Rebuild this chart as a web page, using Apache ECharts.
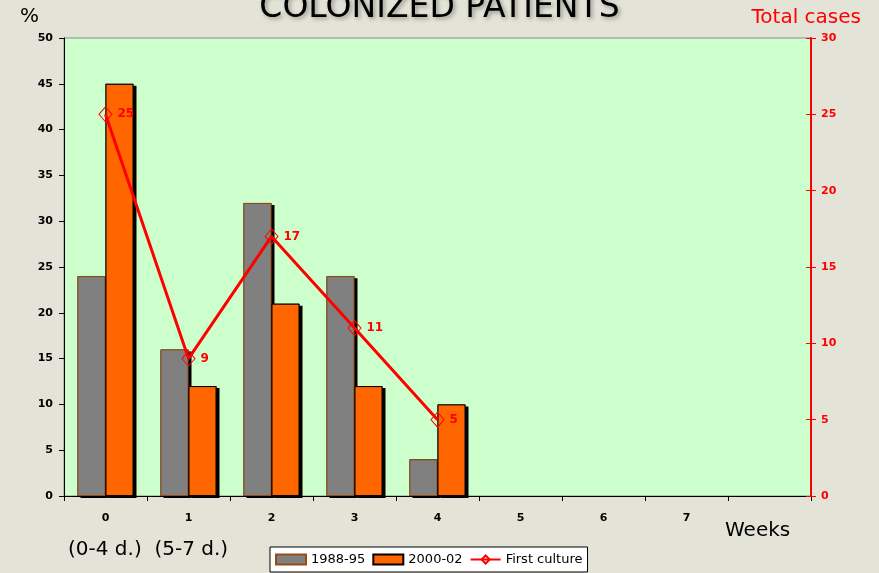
<!DOCTYPE html>
<html>
<head>
<meta charset="utf-8">
<script src="https://cdn.jsdelivr.net/npm/echarts@6/dist/echarts.min.js"></script>
<style>
  html, body { margin: 0; padding: 0; background: #e3e3d8; }
  #chart { width: 879px; height: 573px; }
</style>
</head>
<body>
<div id="chart"></div>
<script>
// Week categories (last slot left blank for the "Weeks" caption)
const weeks = ['0', '1', '2', '3', '4', '5', '6', '7', ''];
// Percentage of colonized patients per period
const period1988 = [24, 16, 32, 24, 4, null, null, null, null];
const period2000 = [45, 12, 21, 12, 10, null, null, null, null];
// Total cases at first culture
const firstCulture = [25, 9, 17, 11, 5, null, null, null, null];

const leftTicks = { min: 0, max: 50, interval: 5 };
const rightTicks = { min: 0, max: 30, interval: 5 };

const FONT_HAND = '"Comic Sans MS", "DejaVu Sans", sans-serif';
const FONT_AXIS = '"DejaVu Sans", Verdana, sans-serif';

const chart = echarts.init(document.getElementById('chart'));

// Drop shadows are drawn by a twin set of bars on a hidden copy of the
// category axis, so the outlined bars on top stay crisp.
const shadowStyle = { shadowColor: '#000', shadowBlur: 0, shadowOffsetX: 3, shadowOffsetY: 2 };

chart.setOption({
  backgroundColor: '#e3e3d8',
  animation: false,
  grid: {
    left: 64, right: 68, top: 38, bottom: 77,
    show: true, backgroundColor: '#ccffcc', borderColor: '#8a8a8a', borderWidth: 1
  },
  legend: {
    left: 270, top: 547,
    backgroundColor: '#ffffff', borderColor: '#000', borderWidth: 1,
    padding: [6, 5, 6, 5], itemGap: 7, itemWidth: 30, itemHeight: 10,
    textStyle: { fontFamily: FONT_HAND, fontSize: 13, color: '#000' },
    data: [
      { name: '1988-95', icon: 'rect' },
      { name: '2000-02', icon: 'rect' },
      { name: 'First culture' }
    ]
  },
  xAxis: [
    {
      type: 'category',
      data: weeks,
      boundaryGap: true,
      axisLine: { lineStyle: { color: '#000', width: 1 } },
      axisTick: { show: true, length: 5, lineStyle: { color: '#000' } },
      axisLabel: { margin: 17, fontFamily: FONT_AXIS, fontWeight: 'bold', fontSize: 11, color: '#000' },
      splitLine: { show: false },
      z: 3
    },
    {
      type: 'category',
      data: weeks,
      boundaryGap: true,
      position: 'bottom',
      show: false
    }
  ],
  yAxis: [
    {
      type: 'value', min: leftTicks.min, max: leftTicks.max, interval: leftTicks.interval,
      axisLine: { show: true, lineStyle: { color: '#000', width: 1 } },
      axisTick: { show: true, length: 5, lineStyle: { color: '#000' } },
      axisLabel: { margin: 11, fontFamily: FONT_AXIS, fontWeight: 'bold', fontSize: 11, color: '#000' },
      splitLine: { show: false }
    },
    {
      type: 'value', position: 'right', min: rightTicks.min, max: rightTicks.max, interval: rightTicks.interval,
      axisLine: { show: true, lineStyle: { color: '#ff0000', width: 2 } },
      axisTick: { show: true, length: 5, lineStyle: { color: '#ff0000' } },
      axisLabel: { margin: 10, fontFamily: FONT_AXIS, fontWeight: 'bold', fontSize: 11, color: '#ff0000' },
      splitLine: { show: false },
      z: 4
    },
    {
      // inner half of the crossing ticks on the right-hand axis
      type: 'value', position: 'right', offset: 0,
      min: rightTicks.min, max: rightTicks.max, interval: rightTicks.interval,
      axisLine: { show: false },
      axisTick: { show: true, inside: true, length: 5, lineStyle: { color: '#ff0000' } },
      axisLabel: { show: false },
      splitLine: { show: false },
      z: 4
    }
  ],
  series: [
    {
      name: 'shade-1988', type: 'bar', xAxisIndex: 1, data: period1988,
      barWidth: 28, barGap: '0%', silent: true, z: 1,
      itemStyle: Object.assign({ color: '#000' }, shadowStyle)
    },
    {
      name: 'shade-2000', type: 'bar', xAxisIndex: 1, data: period2000,
      barWidth: 28, barGap: '0%', silent: true, z: 1,
      itemStyle: Object.assign({ color: '#000' }, shadowStyle)
    },
    {
      name: '1988-95', type: 'bar', data: period1988,
      barWidth: 28, barGap: '0%', z: 2,
      itemStyle: { color: '#808080', borderColor: '#9a4a10', borderWidth: 1 }
    },
    {
      name: '2000-02', type: 'bar', data: period2000,
      barWidth: 28, barGap: '0%', z: 2,
      itemStyle: { color: '#ff6600', borderColor: '#000', borderWidth: 1 }
    },
    {
      name: 'First culture', type: 'line', yAxisIndex: 1, data: firstCulture,
      symbol: 'diamond', symbolSize: [13, 15],
      lineStyle: { color: '#ff0000', width: 3 },
      itemStyle: { color: 'rgba(0,0,0,0)', borderColor: '#ff0000', borderWidth: 1 },
      label: {
        show: true, position: 'right', distance: 5,
        fontFamily: FONT_AXIS, fontWeight: 'bold', fontSize: 12, color: '#ff0000'
      },
      z: 5
    }
  ],
  graphic: [
    {
      type: 'text', left: 'center', top: -8,
      style: {
        text: 'COLONIZED PATIENTS', font: '33px ' + FONT_HAND, fill: '#000',
        textShadowColor: 'rgba(0,0,0,0.35)', textShadowBlur: 4, textShadowOffsetX: 2, textShadowOffsetY: 2
      }
    },
    { type: 'text', left: 20, top: 7, style: { text: '%', font: '20px ' + FONT_HAND, fill: '#000' } },
    { type: 'text', right: 18, top: 8, style: { text: 'Total cases', font: '20px ' + FONT_HAND, fill: '#ff0000' } },
    { type: 'text', left: 725, top: 521, style: { text: 'Weeks', font: '20px ' + FONT_HAND, fill: '#000' } },
    { type: 'text', left: 68, top: 540, style: { text: '(0-4 d.)  (5-7 d.)', font: '20px ' + FONT_HAND, fill: '#000' } }
  ]
});
</script>
</body>
</html>
